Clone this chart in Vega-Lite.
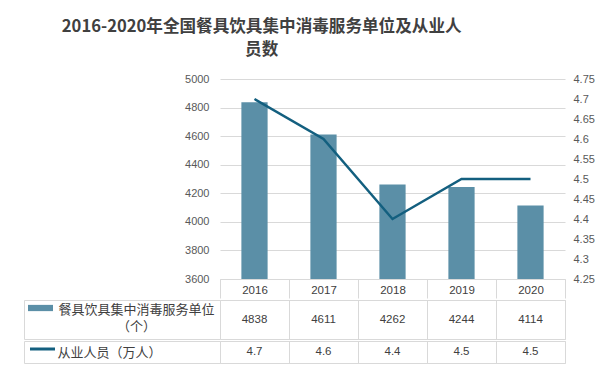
{
  "$schema": "https://vega.github.io/schema/vega-lite/v6.json",
  "padding": {"left": 23, "top": 19, "right": 5, "bottom": 5},
  "background": "white",
  "title": {
    "text": ["2016-2020年全国餐具饮具集中消毒服务单位及从业人", "员数"],
    "font": "Noto Sans CJK SC",
    "fontSize": 16.6,
    "fontWeight": "bold",
    "color": "#404040",
    "lineHeight": 23,
    "anchor": "middle",
    "dx": -47,
    "offset": 14
  },
  "data": {
    "values": [
      {"year": "2016", "units": 4838, "staff": 4.7},
      {"year": "2017", "units": 4611, "staff": 4.6},
      {"year": "2018", "units": 4262, "staff": 4.4},
      {"year": "2019", "units": 4244, "staff": 4.5},
      {"year": "2020", "units": 4114, "staff": 4.5}
    ]
  },
  "spacing": 0,
  "vconcat": [
    {
      "width": 345,
      "height": 200,
      "layer": [
        {
          "mark": {"type": "bar", "width": {"band": 0.38}, "clip": true},
          "encoding": {
            "x": {
              "field": "year",
              "type": "ordinal",
              "scale": {"paddingInner": 0, "paddingOuter": 0},
              "axis": {
                "title": null,
                "labelAngle": 0,
                "domainColor": "#d9d9d9",
                "tickColor": "#d9d9d9",
                "tickSize": 19,
                "tickBand": "extent",
                "labelPadding": -8,
                "labelBaseline": "middle",
                "labelFont": "Liberation Sans",
                "labelFontSize": 11.5,
                "labelColor": "#404040",
                "grid": false
              }
            },
            "y": {
              "field": "units",
              "type": "quantitative",
              "scale": {"domain": [3600, 5000]},
              "axis": {
                "title": null,
                "values": [3600, 3800, 4000, 4200, 4400, 4600, 4800, 5000],
                "format": "d",
                "domain": false,
                "ticks": false,
                "grid": true,
                "gridColor": "#d9d9d9",
                "labelPadding": 11,
                "labelFont": "Liberation Sans",
                "labelFontSize": 11,
                "labelColor": "#595959"
              }
            },
            "fill": {
              "datum": "餐具饮具集中消毒服务单位（个）",
              "scale": {"range": ["#5b8fa7"]},
              "legend": {
                "title": null,
                "orient": "none",
                "legendX": -192,
                "legendY": 216.5,
                "symbolType": "M-1,-0.25H1V0.25H-1Z",
                "symbolSize": 625,
                "symbolStrokeWidth": 0,
                "symbolOpacity": 1,
                "labelExpr": "''"
              }
            }
          }
        },
        {
          "mark": {"type": "line", "strokeWidth": 2.5},
          "encoding": {
            "x": {"field": "year", "type": "ordinal"},
            "y": {
              "field": "staff",
              "type": "quantitative",
              "scale": {"domain": [4.25, 4.75]},
              "axis": {
                "orient": "right",
                "title": null,
                "values": [4.25, 4.3, 4.35, 4.4, 4.45, 4.5, 4.55, 4.6, 4.65, 4.7, 4.75],
                "format": "~g",
                "domain": false,
                "ticks": false,
                "grid": false,
                "labelPadding": 8,
                "labelFont": "Liberation Sans",
                "labelFontSize": 11,
                "labelColor": "#595959"
              }
            },
            "stroke": {
              "datum": "从业人员（万人）",
              "scale": {"range": ["#135f7f"]},
              "legend": {
                "title": null,
                "orient": "none",
                "legendX": -191.5,
                "legendY": 256,
                "symbolType": "stroke",
                "symbolSize": 625,
                "symbolStrokeWidth": 3,
                "symbolOpacity": 1,
                "labelExpr": "''"
              }
            }
          }
        }
      ],
      "resolve": {"scale": {"y": "independent"}}
    },
    {
      "width": 345,
      "height": 39,
      "view": {"stroke": "#d9d9d9"},
      "mark": {"type": "text", "font": "Liberation Sans", "fontSize": 11.5, "color": "#404040"},
      "encoding": {
        "x": {
          "field": "year",
          "type": "ordinal",
          "scale": {"paddingInner": 0, "paddingOuter": 0},
          "axis": {"title": null, "labels": false, "ticks": false, "domain": false, "grid": true, "tickBand": "extent", "gridColor": "#d9d9d9"}
        },
        "y": {
          "datum": "餐具饮具集中消毒服务单位|（个）",
          "type": "nominal",
          "scale": {"type": "band", "paddingInner": 0, "paddingOuter": 0},
          "axis": {
            "title": null,
            "offset": 196,
            "domain": true,
            "domainColor": "#d9d9d9",
            "ticks": true,
            "tickBand": "extent",
            "tickSize": {"expr": "-196"},
            "tickColor": "#d9d9d9",
            "labelPadding": 84,
            "labelAlign": "center",
            "labelBaseline": "middle",
            "labelOffset": -10,
            "labelExpr": "datum.value ? split(datum.value, '|') : ''",
            "labelLineHeight": 17,
            "labelLimit": 300,
            "labelFont": "Noto Sans CJK SC",
            "labelFontSize": {"condition": {"test": "datum.value", "value": 13}, "value": 0},
            "labelColor": "#404040"
          }
        },
        "text": {"field": "units", "type": "quantitative"}
      }
    },
    {
      "width": 345,
      "height": 22,
      "view": {"stroke": "#d9d9d9"},
      "mark": {"type": "text", "font": "Liberation Sans", "fontSize": 11.5, "color": "#404040"},
      "encoding": {
        "x": {
          "field": "year",
          "type": "ordinal",
          "scale": {"paddingInner": 0, "paddingOuter": 0},
          "axis": {"title": null, "labels": false, "ticks": false, "domain": false, "grid": true, "tickBand": "extent", "gridColor": "#d9d9d9"}
        },
        "y": {
          "datum": "从业人员（万人）",
          "type": "nominal",
          "scale": {"type": "band", "paddingInner": 0, "paddingOuter": 0},
          "axis": {
            "title": null,
            "offset": 196,
            "domain": true,
            "domainColor": "#d9d9d9",
            "ticks": true,
            "tickBand": "extent",
            "tickSize": {"expr": "-196"},
            "tickColor": "#d9d9d9",
            "labelPadding": 163,
            "labelAlign": "left",
            "labelBaseline": "middle",
            "labelExpr": "datum.value ? datum.value : ''",
            "labelLimit": 300,
            "labelFont": "Noto Sans CJK SC",
            "labelFontSize": {"condition": {"test": "datum.value", "value": 13}, "value": 0},
            "labelColor": "#404040"
          }
        },
        "text": {"field": "staff", "type": "quantitative", "format": ".1f"}
      }
    }
  ],
  "config": {
    "view": {"stroke": null},
    "axis": {"labelOverlap": false}
  }
}
